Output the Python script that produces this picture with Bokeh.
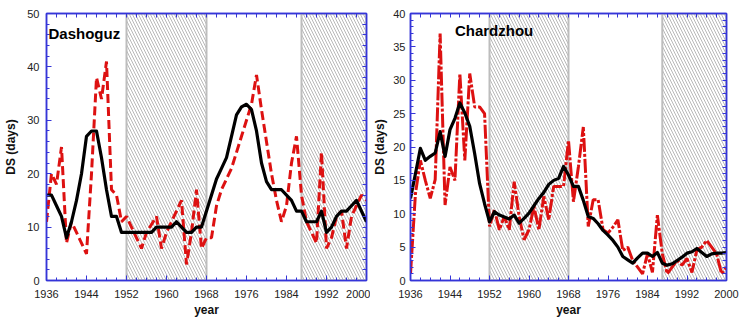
from bokeh.plotting import figure
from bokeh.layouts import row
from bokeh.models import Range1d, LinearAxis, FixedTicker, Label
from bokeh.embed import file_html
from bokeh.resources import INLINE

years = list(range(1936, 2001))

# Dashoguz
dashoguz_smooth = [16, 16, 14, 12, 8, 11, 15, 20, 27, 28,
                   28, 23, 17, 12, 12, 9, 9, 9, 9, 9,
                   9, 9, 10, 10, 10, 10, 11, 10, 9, 9,
                   10, 10, 13, 16, 19, 21, 23, 27, 31, 32.5,
                   33, 32, 28, 22, 18.5, 17, 17, 17, 16, 15,
                   13, 13, 11, 11, 11, 13, 9, 10, 12, 13,
                   13, 14, 15, 13, 11]
dashoguz_obs = [11, 20, 18, 25, 7, 11, 9, 7, 5, 20,
                38, 34, 41, 17, 16, 11, 12, 10, 8, 6,
                9, 10.5, 12, 6, 9, 11, 13, 15, 3, 9,
                17, 6, 8, 8, 14, 17, 19, 21, 24, 27,
                30, 33, 38.5, 32, 26, 20, 15, 11, 14, 22,
                27, 16, 11, 9, 7, 24, 6, 8, 12, 13,
                6, 12, 14, 16, 15]

# Chardzhou
chardzhou_smooth = [12.3, 16, 19.8, 18, 18.6, 19.1, 22.3, 18.6, 22.6, 24.3,
                    26.6, 25.1, 23.1, 19, 14.5, 11.5, 8.8, 10.3, 9.8, 9.5,
                    9.2, 9.8, 8.6, 9.3, 10.1, 11.2, 12.3, 13.2, 14.4, 15,
                    15.3, 17.1, 15.8, 14.1, 14.1, 12, 9.6, 9.3, 8.5, 7.5,
                    6.8, 6.0, 5, 3.6, 3.1, 2.6, 3.4, 4.1, 4.1, 3.6,
                    4.2, 2.6, 2.3, 2.5, 3, 3.5, 4.1, 4.3, 4.8, 4.2,
                    3.6, 4.0, 4.1, 4.1, 4.2]
chardzhou_obs = [1, 13, 18, 15, 12.3, 15.1, 37, 11.3, 17, 15,
                 31, 18, 31, 26, 26, 25, 8.1, 10.6, 7.6, 9.6,
                 7.6, 14.8, 9.6, 6.1, 7.6, 11.1, 7.6, 12.6, 9.1, 14.1,
                 14.1, 14.1, 21, 11.8, 17, 23, 8.1, 12.1, 12.1, 7.6,
                 7.1, 8, 9.1, 4.5, 5, 3, 2, 1, 4, 1.2,
                 9.8, 4, 1, 2, 3, 2.3, 3.3, 1.2, 4.6, 5,
                 6, 5, 4, 1, 2]

shade_start = [1952, 1987]
shade_end = [1968, 2000]
x_ticks = [1936, 1944, 1952, 1960, 1968, 1976, 1984, 1992, 2000]
x_minor = list(range(1936, 2001, 2))

AXIS_BLUE = "#3535d8"
FONT = "Liberation Sans"


def style_axis(ax):
    ax.axis_line_color = AXIS_BLUE
    ax.axis_line_width = 1.5
    ax.major_tick_line_color = AXIS_BLUE
    ax.minor_tick_line_color = AXIS_BLUE
    ax.major_tick_in = 5
    ax.major_tick_out = 0
    ax.minor_tick_in = 3
    ax.minor_tick_out = 0
    ax.major_label_text_font = FONT
    ax.major_label_text_color = "#222222"
    ax.major_label_text_font_size = "11px"
    ax.axis_label_text_font = FONT
    ax.axis_label_text_font_style = "bold"
    ax.axis_label_text_font_size = "12px"
    ax.axis_label_text_color = "#111111"


def mirror_axis(minor):
    # frame edge with inward ticks, no labels
    ax = LinearAxis(ticker=FixedTicker(ticks=[], minor_ticks=minor))
    ax.axis_line_color = AXIS_BLUE
    ax.axis_line_width = 1.5
    ax.minor_tick_line_color = AXIS_BLUE
    ax.minor_tick_in = 4
    ax.minor_tick_out = 0
    ax.major_label_standoff = 0
    return ax


def make_panel(name, smooth, obs, ymax, ystep, obs_dash, name_x, name_y,
               left_border, right_border, fwidth, lab_stand, title_stand):
    p = figure(frame_width=fwidth, frame_height=267,
               x_range=Range1d(1936, 2000), y_range=Range1d(0, ymax),
               output_backend="svg", toolbar_location=None,
               min_border_left=left_border, min_border_right=right_border,
               min_border_top=13, min_border_bottom=40,
               x_axis_label="year", y_axis_label="DS (days)")
    p.xgrid.visible = False
    p.ygrid.visible = False
    p.outline_line_color = AXIS_BLUE
    p.outline_line_width = 1.5
    p.background_fill_color = "white"
    p.border_fill_color = "white"

    p.quad(left=shade_start, right=shade_end, bottom=0, top=ymax,
           fill_color="white", fill_alpha=0.0,
           hatch_pattern="left_diagonal_line", hatch_color="#9a9a9a",
           hatch_scale=6, hatch_weight=0.7,
           line_color="#bdbdbd", line_width=2)

    p.line(years, obs, line_color="#dd1111", line_width=3,
           line_dash=obs_dash)
    p.line(years, smooth, line_color="black", line_width=3.2,
           line_join="round")

    yticks = list(range(0, ymax + 1, ystep))
    y_minor = [v * ystep / 5 for v in range(0, 5 * (len(yticks) - 1) + 1)]
    p.xaxis.ticker = FixedTicker(ticks=x_ticks, minor_ticks=x_minor)
    p.yaxis.ticker = FixedTicker(ticks=yticks, minor_ticks=y_minor)
    p.xaxis.major_label_standoff = 9
    p.yaxis.major_label_standoff = lab_stand
    p.xaxis.axis_label_standoff = 2
    p.yaxis.axis_label_standoff = title_stand
    style_axis(p.xaxis[0])
    style_axis(p.yaxis[0])

    p.add_layout(mirror_axis(x_minor), "above")
    p.add_layout(mirror_axis(y_minor), "right")

    p.add_layout(Label(x=name_x, y=name_y, text=name,
                       text_font=FONT, text_font_style="bold",
                       text_font_size="15px", text_color="black"))
    return p


p1 = make_panel("Dashoguz", dashoguz_smooth, dashoguz_obs, 50, 10, "9 4",
                1936.4, 44.6, 46, 4, 320, 7, 6)
p2 = make_panel("Chardzhou", chardzhou_smooth, chardzhou_obs, 40, 5,
                "14 2 3 2", 1945.0, 36.2, 40, 13, 316, 5, 3)

layout = row(p1, p2, spacing=0)
open("out.html", "w").write(file_html(layout, INLINE))
